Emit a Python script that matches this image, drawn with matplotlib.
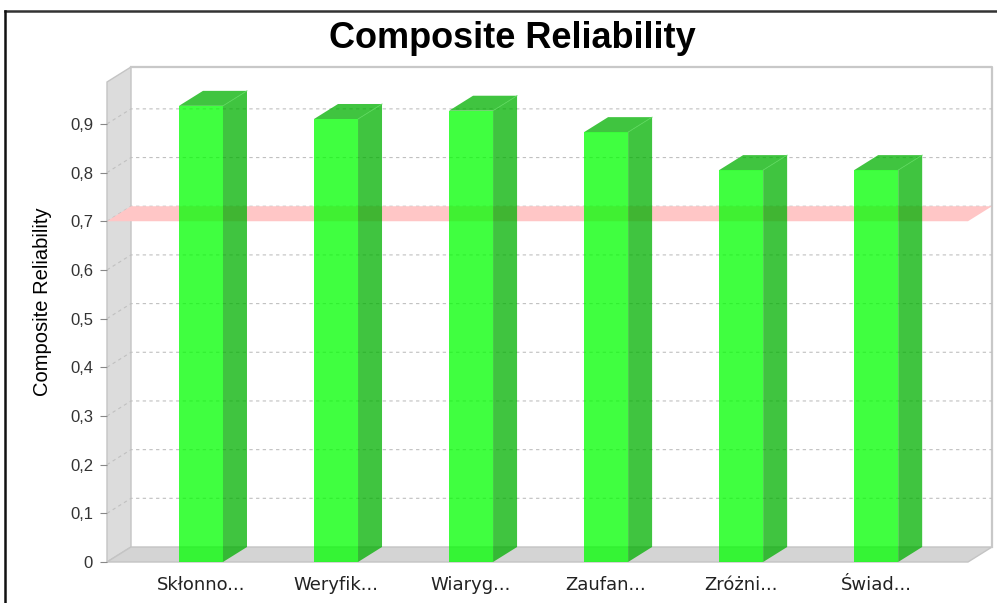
#!/usr/bin/env python3

import matplotlib.pyplot as plt
from matplotlib.patches import Polygon
from matplotlib.lines import Line2D

# Dane
categories = ['Skłonno...', 'Weryfik...', 'Wiaryg...', 'Zaufan...', 'Zróżni...', 'Świad...']
values = [0.937, 0.910, 0.927, 0.883, 0.805, 0.805]
threshold = 0.7
yticks = [0, 0.1, 0.2, 0.3, 0.4, 0.5, 0.6, 0.7, 0.8, 0.9]
ytick_labels = ['0', '0,1', '0,2', '0,3', '0,4', '0,5', '0,6', '0,7', '0,8', '0,9']

W, H = 997, 603
# przednia ściana obszaru wykresu (piksele)
L, R, T, B = 107, 968, 82, 562
DX_PX, DY_PX = 24, 15

fig = plt.figure(figsize=(W / 100, H / 100), dpi=100)
ax = fig.add_axes([L / W, 1 - B / H, (R - L) / W, (B - T) / H])

xmin, xmax = -0.696, 5.68
ymin, ymax = 0, 0.986
ax.set_xlim(xmin, xmax)
ax.set_ylim(ymin, ymax)

DX = DX_PX * (xmax - xmin) / (R - L)
DY = DY_PX * (ymax - ymin) / (B - T)

wall = '#dcdcdc'
edge = '#c4c4c4'

# lewa ściana i podłoga
ax.add_patch(Polygon([(xmin, ymin), (xmin + DX, ymin + DY), (xmin + DX, ymax + DY), (xmin, ymax)],
                     closed=True, fc=wall, ec=edge, lw=1, clip_on=False, zorder=1))
ax.add_patch(Polygon([(xmin, ymin), (xmax, ymin), (xmax + DX, ymin + DY), (xmin + DX, ymin + DY)],
                     closed=True, fc='#d4d4d4', ec=edge, lw=1, clip_on=False, zorder=1))
# ramka tylnej ściany
ax.add_line(Line2D([xmin + DX, xmax + DX, xmax + DX], [ymax + DY, ymax + DY, ymin + DY],
                   color='#c8c8c8', lw=1.6, clip_on=False, zorder=1))

# linie siatki
for t in yticks[1:]:
    ax.add_line(Line2D([xmin, xmin + DX, xmax + DX], [t, t + DY, t + DY], color='#c0c0c0',
                       lw=0.8, ls=(0, (3, 3)), clip_on=False, zorder=2))

# znacznik progu 0,7 (pod półprzezroczystymi słupkami)
ax.add_patch(Polygon([(xmin, threshold), (xmax, threshold), (xmax + DX, threshold + DY),
                      (xmin + DX, threshold + DY)], closed=True, fc='#ffc6c6', ec='none',
                     clip_on=False, zorder=2.5))

# słupki 3D
bw = 44 * (xmax - xmin) / (R - L)
alpha = 0.75
front_c = '#00ff00'
side_c = '#00b000'
for i, v in enumerate(values):
    x0, x1 = i - bw / 2, i + bw / 2
    ax.add_patch(Polygon([(x1, 0), (x1 + DX, DY), (x1 + DX, v + DY), (x1, v)], closed=True,
                         fc=side_c, ec='none', alpha=alpha, clip_on=False, zorder=3))
    ax.add_patch(Polygon([(x0, v), (x1, v), (x1 + DX, v + DY), (x0 + DX, v + DY)], closed=True,
                         fc=side_c, ec='none', alpha=alpha, clip_on=False, zorder=3))
    ax.add_patch(Polygon([(x0, 0), (x1, 0), (x1, v), (x0, v)], closed=True,
                         fc=front_c, ec='none', alpha=alpha, clip_on=False, zorder=3))
    ax.add_line(Line2D([x1, x1 + DX], [v, v + DY], color='#5ad85a', lw=0.6, clip_on=False, zorder=4))

for s in ax.spines.values():
    s.set_visible(False)

ax.set_xticks(range(len(categories)))
ax.set_xticklabels(categories, fontsize=13, family='DejaVu Sans', color='#222222')
ax.tick_params(axis='x', length=0, pad=10)
ax.set_yticks(yticks)
ax.set_yticklabels(ytick_labels, fontsize=12, family='Liberation Sans', color='#333333')
ax.tick_params(axis='y', length=5, color='#888888', pad=5)
ax.set_ylabel('Composite Reliability', fontsize=14.5, family='Liberation Sans')
ax.yaxis.set_label_coords(52 / W, 0.5, transform=fig.transFigure)

fig.text(512 / W, 1 - 38 / H, 'Composite Reliability', fontsize=26, fontweight='bold',
         family='Liberation Sans', ha='center', va='center')

# ramka obrazu
fig.add_artist(Line2D([5 / W, 1], [1 - 11 / H, 1 - 11 / H], color='#333333', lw=1.8))
fig.add_artist(Line2D([5 / W, 5 / W], [0, 1 - 11 / H], color='#111111', lw=1.8))

fig.savefig('out.png', dpi=100)
